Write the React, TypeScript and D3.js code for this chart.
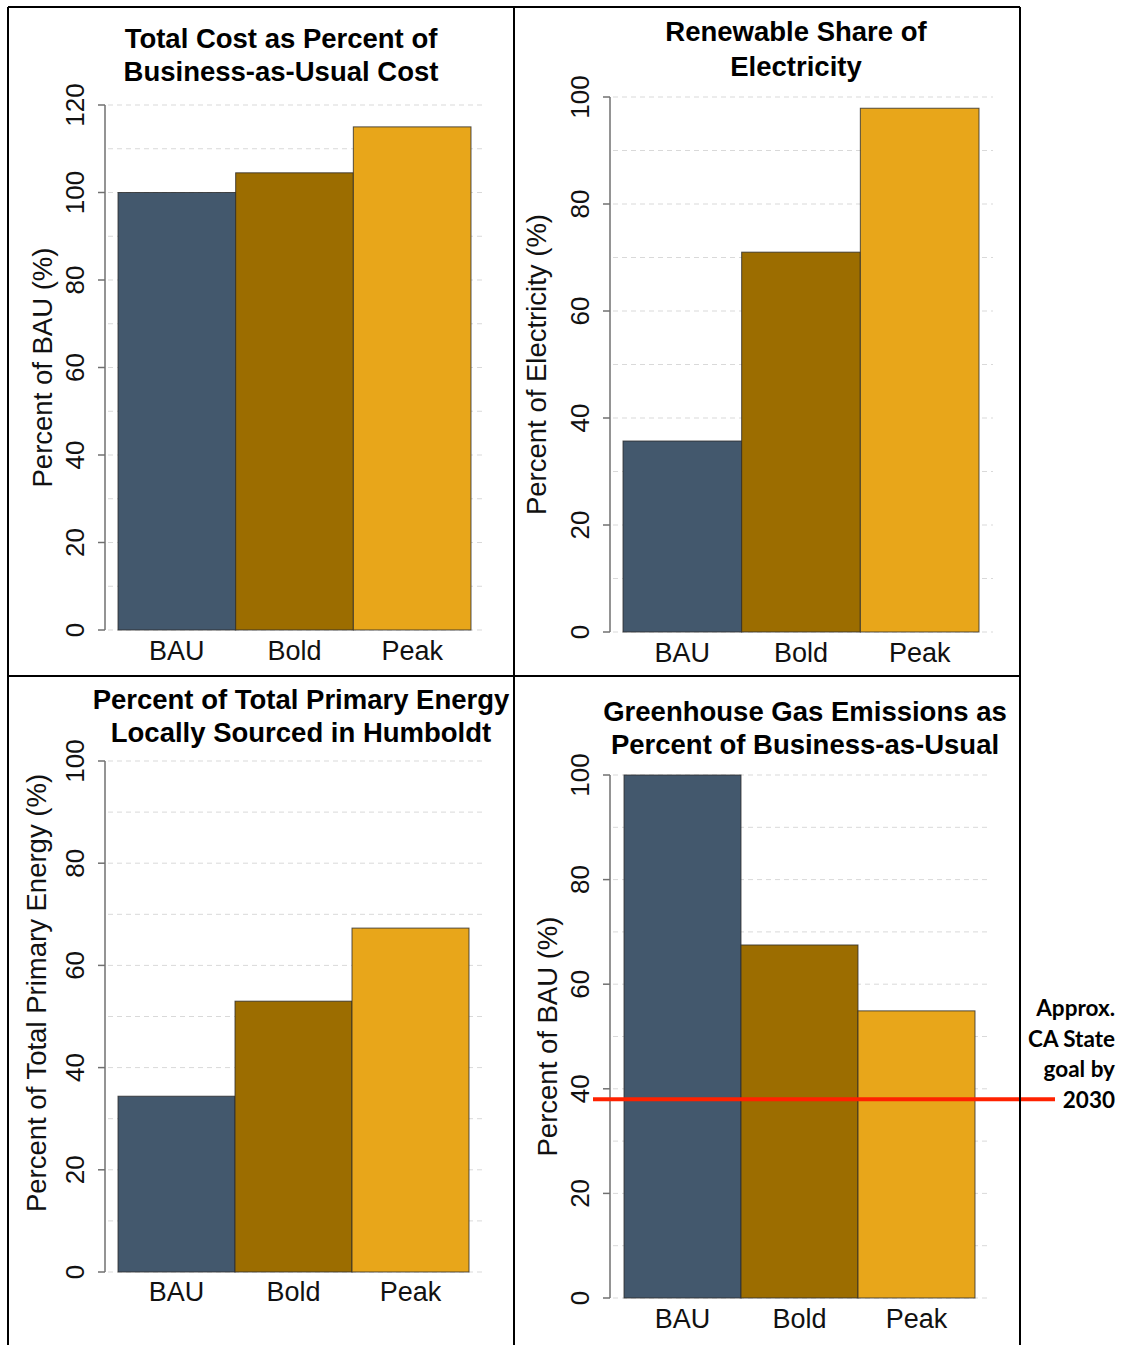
import React from "react";
import * as d3 from "d3";

const categories = ["BAU", "Bold", "Peak"];
const costValues = [100, 104.5, 115];
const renewableValues = [35.7, 71.0, 97.9];
const localValues = [34.4, 53.0, 67.3];
const ghgValues = [100, 67.5, 54.9];
const ghgGoal = 38;
const costTicks = [0, 20, 40, 60, 80, 100, 120];
const pctTicks = [0, 20, 40, 60, 80, 100];
const annotationLines = ["Approx.", "CA State", "goal by", "2030"];

const colors = ["#43586D", "#9C6D00", "#E8A61A"];
const FONT = "'Liberation Sans', Arial, Helvetica, sans-serif";

type PanelCfg = {
  titles: string[];
  titleX: number;
  titleY: number[];
  ylabel: string;
  ylabelX: number;
  ylabelY?: number;
  values: number[];
  ticks: number[];
  yMax: number;
  axisX: number;
  barL: number;
  barR: number;
  gridR: number;
  y0: number;
  yTop: number;
  tickLabelX: number;
  xLabelY: number;
};

function Panel({ cfg, children }: { cfg: PanelCfg; children?: (y: d3.ScaleLinear<number, number>) => React.ReactNode }) {
  const y = d3.scaleLinear().domain([0, cfg.yMax]).range([cfg.y0, cfg.yTop]);
  const x = d3.scaleBand().domain(categories).range([cfg.barL, cfg.barR]).padding(0);
  const grid = d3.range(0, cfg.yMax + 0.001, 10);
  const midY = cfg.ylabelY ?? (cfg.y0 + cfg.yTop) / 2;
  return (
    <g>
      {cfg.titles.map((t, i) => (
        <text key={i} x={cfg.titleX} y={cfg.titleY[i]} textAnchor="middle" fontFamily={FONT} fontWeight="bold" fontSize={27.5} fill="#000">
          {t}
        </text>
      ))}
      {grid.map((g) => (
        <line key={g} x1={cfg.axisX + 3} x2={cfg.gridR} y1={y(g)} y2={y(g)} stroke="#d9d9d9" strokeWidth={1} strokeDasharray="5,4" />
      ))}
      <line x1={cfg.axisX} x2={cfg.axisX} y1={cfg.y0} y2={cfg.yTop} stroke="#707070" strokeWidth={1.5} />
      {cfg.ticks.map((t) => (
        <g key={t}>
          <line x1={cfg.axisX - 7} x2={cfg.axisX} y1={y(t)} y2={y(t)} stroke="#707070" strokeWidth={1.5} />
          <text
            transform={`translate(${cfg.tickLabelX},${y(t)}) rotate(-90)`}
            textAnchor="middle"
            fontFamily={FONT}
            fontSize={26}
            fill="#111"
          >
            {t}
          </text>
        </g>
      ))}
      <text transform={`translate(${cfg.ylabelX},${midY}) rotate(-90)`} textAnchor="middle" fontFamily={FONT} fontSize={27.5} fill="#111">
        {cfg.ylabel}
      </text>
      {cfg.values.map((v, i) => (
        <rect
          key={i}
          x={x(categories[i])!}
          y={y(v)}
          width={x.bandwidth()}
          height={cfg.y0 - y(v)}
          fill={colors[i]}
          stroke="#2a2a2a"
          strokeOpacity={0.8}
          strokeWidth={1}
        />
      ))}
      {categories.map((c) => (
        <text key={c} x={x(c)! + x.bandwidth() / 2} y={cfg.xLabelY} textAnchor="middle" fontFamily={FONT} fontSize={27} fill="#111">
          {c}
        </text>
      ))}
      {children ? children(y) : null}
    </g>
  );
}

const p1: PanelCfg = {
  titles: ["Total Cost as Percent of", "Business-as-Usual Cost"],
  titleX: 281,
  titleY: [48, 81],
  ylabel: "Percent of BAU (%)",
  ylabelX: 52,
  values: costValues,
  ticks: costTicks,
  yMax: 120,
  axisX: 105,
  barL: 118,
  barR: 471,
  gridR: 486,
  y0: 630,
  yTop: 105,
  tickLabelX: 84,
  xLabelY: 660,
};
const p2: PanelCfg = {
  titles: ["Renewable Share of", "Electricity"],
  titleX: 796,
  titleY: [41, 76],
  ylabel: "Percent of Electricity (%)",
  ylabelX: 546,
  values: renewableValues,
  ticks: pctTicks,
  yMax: 100,
  axisX: 610,
  barL: 623,
  barR: 979,
  gridR: 993,
  y0: 632,
  yTop: 97,
  tickLabelX: 589,
  xLabelY: 662,
};
const p3: PanelCfg = {
  titles: ["Percent of Total Primary Energy", "Locally Sourced in Humboldt"],
  titleX: 301,
  titleY: [709, 742],
  ylabel: "Percent of Total Primary Energy (%)",
  ylabelX: 46,
  ylabelY: 993,
  values: localValues,
  ticks: pctTicks,
  yMax: 100,
  axisX: 105,
  barL: 118,
  barR: 469,
  gridR: 484,
  y0: 1272,
  yTop: 761,
  tickLabelX: 84,
  xLabelY: 1301,
};
const p4: PanelCfg = {
  titles: ["Greenhouse Gas Emissions as", "Percent of Business-as-Usual"],
  titleX: 805,
  titleY: [721, 754],
  ylabel: "Percent of BAU (%)",
  ylabelX: 557,
  values: ghgValues,
  ticks: pctTicks,
  yMax: 100,
  axisX: 610,
  barL: 624,
  barR: 975,
  gridR: 990,
  y0: 1298,
  yTop: 775,
  tickLabelX: 589,
  xLabelY: 1328,
};

export default function App() {
  return (
    <svg width={1122} height={1345} style={{ position: "absolute", left: 0, top: 0, background: "#fff" }}>
      <rect x={0} y={0} width={1122} height={1345} fill="#fff" />
      <Panel cfg={p1} />
      <Panel cfg={p2} />
      <Panel cfg={p3} />
      <Panel cfg={p4}>
        {(y) => (
          <g>
            <line x1={593} x2={1055} y1={y(ghgGoal)} y2={y(ghgGoal)} stroke="#FF2200" strokeWidth={4} />
            {annotationLines.map((t, i) => (
              <text key={i} x={1115} y={1016 + i * 30.5} textAnchor="end" fontFamily="Lato, 'Open Sans', sans-serif" fontWeight="bold" fontSize={22.5} fill="#000">
                {t}
              </text>
            ))}
          </g>
        )}
      </Panel>
      {/* frame */}
      <g stroke="#000" strokeWidth={2} fill="none">
        <line x1={8} x2={1020} y1={7} y2={7} />
        <line x1={8} x2={8} y1={7} y2={1345} />
        <line x1={1020} x2={1020} y1={7} y2={1345} />
        <line x1={514} x2={514} y1={7} y2={1345} />
        <line x1={8} x2={1020} y1={676} y2={676} />
      </g>
    </svg>
  );
}
